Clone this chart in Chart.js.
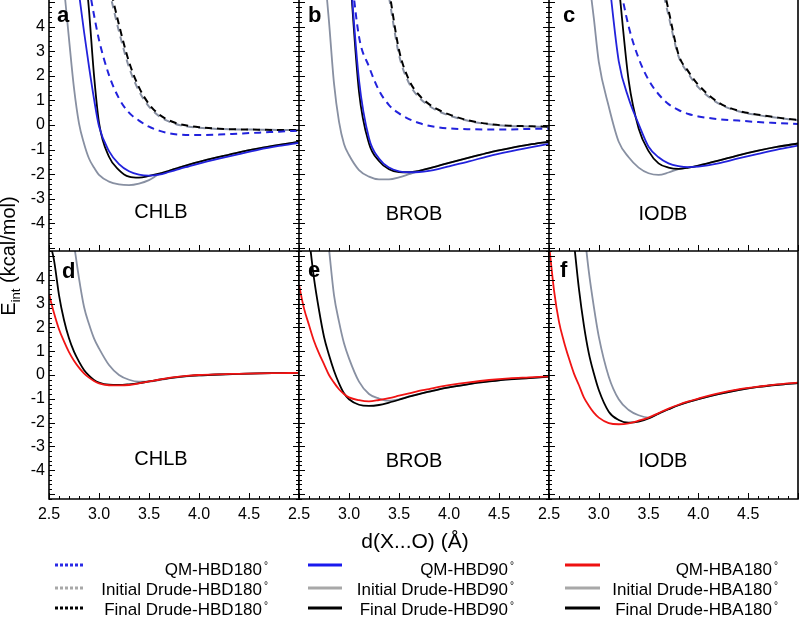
<!DOCTYPE html>
<html><head><meta charset="utf-8">
<script src="https://cdn.jsdelivr.net/npm/chart.js@4.4.0/dist/chart.umd.min.js"></script>
<style>
body{margin:0;background:#fff;}
#wrap{position:relative;width:800px;height:617px;overflow:hidden;font-family:'Liberation Sans',Arial,sans-serif;color:#000;background:#fff;}
canvas{position:absolute;}
.t{position:absolute;white-space:nowrap;line-height:1;}
</style></head><body>
<div id="wrap">
<canvas id="ca" width="299" height="251" style="left:0;top:0"></canvas>
<canvas id="cb" width="250" height="251" style="left:299px;top:0"></canvas>
<canvas id="cc" width="251" height="251" style="left:549px;top:0"></canvas>
<canvas id="cd" width="299" height="288" style="left:0;top:251px"></canvas>
<canvas id="ce" width="265" height="288" style="left:284px;top:251px"></canvas>
<canvas id="cf" width="266" height="288" style="left:534px;top:251px"></canvas>
<svg style="position:absolute;left:0;top:0" width="800" height="617">
  <line x1="55" y1="565" x2="85" y2="565" stroke="#2a2ae6" stroke-width="3" stroke-dasharray="3 2"/>
  <line x1="55" y1="588" x2="85" y2="588" stroke="#a8a8a8" stroke-width="3" stroke-dasharray="3 2"/>
  <line x1="55" y1="608" x2="85" y2="608" stroke="#000" stroke-width="3" stroke-dasharray="3 2"/>
  <line x1="308" y1="565" x2="342" y2="565" stroke="#1a1aee" stroke-width="3"/>
  <line x1="308" y1="588" x2="342" y2="588" stroke="#a8a8a8" stroke-width="3"/>
  <line x1="308" y1="608" x2="342" y2="608" stroke="#000" stroke-width="3"/>
  <line x1="565" y1="565" x2="600" y2="565" stroke="#ee1111" stroke-width="3"/>
  <line x1="565" y1="588" x2="600" y2="588" stroke="#a8a8a8" stroke-width="3"/>
  <line x1="565" y1="608" x2="600" y2="608" stroke="#000" stroke-width="3"/>
</svg>
<div class="t" style="left:-92px;top:244px;width:200px;height:24px;line-height:24px;font-size:20px;text-align:center;transform:rotate(-90deg);">E<sub style="font-size:13px;line-height:0">int</sub> (kcal/mol)</div>
</div>
<script>
const N = null;
// distance grid d(X...O) in Angstrom
const dist = [2.5,2.55,2.6,2.65,2.7,2.75,2.8,2.85,2.9,2.95,3.0,3.1,3.2,3.3,3.4,3.5,3.6,3.7,3.8,3.9,4.0,4.2,4.4,4.6,4.8,5.0];

// Panel a (CHLB, HBD)
const aQM180  = [N,N,N,N,N,N,N,N,5.6,4.47,3.46,2.03,1.08,0.50,0.18,-0.07,-0.23,-0.34,-0.39,-0.41,-0.41,-0.39,-0.35,-0.31,-0.27,-0.23];
const aINI180 = [N,N,N,N,N,N,N,N,N,N,N,5.5,3.8,2.35,1.38,0.75,0.36,0.14,0.0,-0.07,-0.11,-0.16,-0.18,-0.19,-0.2,-0.2];
const aFIN180 = [N,N,N,N,N,N,N,N,N,N,N,5.8,4.07,2.57,1.53,0.85,0.43,0.19,0.04,-0.04,-0.09,-0.15,-0.18,-0.19,-0.2,-0.2];
const aQM90   = [N,N,N,N,N,N,5.35,3.8,2.37,1.06,-0.05,-1.06,-1.59,-1.88,-2.02,-2.06,-2.02,-1.91,-1.79,-1.68,-1.57,-1.37,-1.18,-1.0,-0.85,-0.72];
const aINI90  = [N,N,N,5.6,3.5,1.5,0.07,-0.75,-1.36,-1.73,-2.03,-2.30,-2.41,-2.44,-2.38,-2.24,-2.0,-1.86,-1.73,-1.61,-1.50,-1.30,-1.11,-0.95,-0.81,-0.68];
const aFIN90  = [N,N,N,N,N,N,N,7.0,4.67,2.03,0.1,-1.29,-1.83,-2.10,-2.14,-2.07,-1.98,-1.86,-1.73,-1.61,-1.50,-1.30,-1.11,-0.95,-0.81,-0.68];

// Panel b (BROB, HBD)
const bQM180  = [N,N,N,N,N,N,N,N,N,N,7.0,3.59,2.37,1.40,0.81,0.47,0.24,0.08,-0.03,-0.10,-0.14,-0.17,-0.18,-0.18,-0.16,-0.15];
const bINI180 = [N,N,N,N,N,N,N,N,N,N,N,N,N,N,5.2,2.85,1.7,1.12,0.78,0.55,0.39,0.16,0.03,-0.04,-0.06,-0.08];
const bFIN180 = [N,N,N,N,N,N,N,N,N,N,N,N,N,N,5.5,3.05,1.83,1.22,0.85,0.61,0.43,0.18,0.04,-0.03,-0.05,-0.07];
const bQM90   = [N,N,N,N,N,N,N,N,N,N,6.8,1.83,-0.54,-1.36,-1.73,-1.88,-1.92,-1.91,-1.86,-1.78,-1.68,-1.48,-1.26,-1.08,-0.92,-0.77];
const bINI90  = [N,N,N,N,N,6.5,4.2,1.69,0.14,-0.77,-1.22,-1.83,-2.10,-2.21,-2.21,-2.13,-2.0,-1.87,-1.76,-1.65,-1.54,-1.33,-1.12,-0.95,-0.80,-0.68];
const bFIN90  = [N,N,N,N,N,N,N,N,N,N,6.7,1.36,-0.75,-1.46,-1.80,-1.91,-1.92,-1.86,-1.76,-1.65,-1.54,-1.33,-1.12,-0.95,-0.80,-0.68];

// Panel c (IODB, HBD)
const cQM180  = [N,N,N,N,N,N,N,N,N,N,N,N,5.9,4.0,2.71,1.83,1.25,0.85,0.61,0.45,0.35,0.24,0.18,0.12,0.08,0.04];
const cINI180 = [N,N,N,N,N,N,N,N,N,N,N,N,N,N,N,N,6.2,4.45,2.8,2.08,1.53,0.88,0.56,0.40,0.29,0.19];
const cFIN180 = [N,N,N,N,N,N,N,N,N,N,N,N,N,N,N,N,6.5,4.67,2.87,2.17,1.63,0.92,0.58,0.42,0.30,0.20];
const cQM90   = [N,N,N,N,N,N,N,N,N,N,N,6.0,2.6,1.08,0.04,-0.88,-1.31,-1.56,-1.67,-1.71,-1.69,-1.56,-1.36,-1.17,-0.99,-0.84];
const cINI90  = [N,N,N,N,N,N,N,N,6.0,4.34,2.57,0.75,-0.68,-1.31,-1.73,-1.96,-2.03,-1.93,-1.79,-1.73,-1.65,-1.45,-1.23,-1.04,-0.88,-0.75];
const cFIN90  = [N,N,N,N,N,N,N,N,N,N,N,N,5.7,1.80,-0.14,-1.06,-1.56,-1.73,-1.78,-1.73,-1.65,-1.45,-1.23,-1.04,-0.88,-0.75];

// Panel d (CHLB, HBA)
const dQMA  = [3.40,2.60,1.92,1.41,0.96,0.60,0.31,0.07,-0.11,-0.25,-0.35,-0.43,-0.44,-0.42,-0.35,-0.27,-0.20,-0.12,-0.07,-0.03,0.0,0.03,0.05,0.07,0.08,0.09];
const dINIA = [N,N,N,N,N,5.5,4.06,2.87,2.14,1.54,1.12,0.42,0.0,-0.20,-0.28,-0.28,-0.22,-0.14,-0.09,-0.05,-0.02,0.02,0.05,0.07,0.08,0.09];
const dFINA = [5.7,4.83,3.36,2.31,1.54,0.98,0.56,0.21,-0.03,-0.21,-0.32,-0.41,-0.42,-0.39,-0.34,-0.27,-0.20,-0.13,-0.08,-0.04,-0.01,0.02,0.05,0.07,0.08,0.09];

// Panel e (BROB, HBA)
const eQMA  = [3.78,2.80,2.10,1.43,0.91,0.46,0.0,-0.32,-0.60,-0.80,-0.94,-1.06,-1.11,-1.05,-0.97,-0.87,-0.77,-0.67,-0.59,-0.50,-0.43,-0.31,-0.21,-0.14,-0.10,-0.06];
const eINIA = [N,N,N,N,N,N,5.3,3.36,2.24,1.33,0.70,-0.28,-0.80,-0.99,-1.08,-1.02,-0.90,-0.79,-0.70,-0.60,-0.52,-0.38,-0.27,-0.18,-0.13,-0.08];
const eFINA = [N,N,5.8,4.06,2.73,1.61,0.84,0.18,-0.35,-0.77,-1.02,-1.25,-1.30,-1.26,-1.16,-1.04,-0.91,-0.80,-0.70,-0.60,-0.52,-0.38,-0.27,-0.18,-0.13,-0.07];

// Panel f (IODB, HBA)
const fQMA  = [5.5,3.57,2.24,1.40,0.70,0.07,-0.42,-0.94,-1.29,-1.58,-1.79,-2.02,-2.07,-2.03,-1.92,-1.79,-1.60,-1.41,-1.25,-1.11,-0.99,-0.77,-0.60,-0.49,-0.39,-0.32];
const fINIA = [N,N,N,N,N,N,N,6.2,4.34,2.87,1.61,-0.07,-1.02,-1.47,-1.69,-1.79,-1.62,-1.44,-1.27,-1.13,-1.01,-0.80,-0.63,-0.50,-0.41,-0.34];
const fFINA = [N,N,N,N,N,5.6,3.64,2.10,0.91,0.07,-0.63,-1.54,-1.89,-2.0,-1.96,-1.82,-1.62,-1.44,-1.27,-1.13,-1.01,-0.80,-0.63,-0.50,-0.41,-0.34];

const xTickLabels = ['2.5','3.0','3.5','4.0','4.5'];
const yTickLabels = ['-4','-3','-2','-1','0','1','2','3','4'];
const panelLetters = ['a','b','c','d','e','f'];
const panelNames = ['CHLB','BROB','IODB','CHLB','BROB','IODB'];
const legendCol1 = ['QM-HBD180','Initial Drude-HBD180','Final Drude-HBD180'];
const legendCol2 = ['QM-HBD90','Initial Drude-HBD90','Final Drude-HBD90'];
const legendCol3 = ['QM-HBA180','Initial Drude-HBA180','Final Drude-HBA180'];

const BLUE = '#2222dc', GREY = '#8890a2', BLACK = '#000000', RED = '#f01414';

Chart.defaults.font.family = "'Liberation Sans', Arial, sans-serif";
Chart.defaults.color = '#000';

const framePlugin = {
  id: 'frame',
  afterDatasetsDraw(chart, args, o) {
    const ctx = chart.ctx, ca = chart.chartArea;
    const xs = chart.scales.x, ys = chart.scales.y;
    ctx.save();
    ctx.strokeStyle = '#000';
    ctx.lineWidth = 1;
    ctx.beginPath();
    for (let k = 25; k <= 50; k++) {
      const px = Math.round(xs.getPixelForValue(k / 10)) + 0.5;
      const len = (k % 5 === 0) ? 6 : 3;
      ctx.moveTo(px, ca.bottom); ctx.lineTo(px, ca.bottom - len);
    }
    for (let k = -26; k <= 26; k++) {
      const v = k / 5;
      if (v < ys.min || v > ys.max) continue;
      const py = Math.round(ys.getPixelForValue(v)) + 0.5;
      const len = (k % 5 === 0) ? 6 : 3;
      ctx.moveTo(ca.left, py); ctx.lineTo(ca.left + len, py);
      if (o.right) { ctx.moveTo(ca.right, py); ctx.lineTo(ca.right - len, py); }
    }
    ctx.stroke();
    ctx.lineWidth = 1.6;
    ctx.beginPath();
    ctx.moveTo(ca.left, ca.top); ctx.lineTo(ca.left, ca.bottom);
    ctx.lineTo(ca.right, ca.bottom); ctx.lineTo(ca.right, ca.top);
    if (o.top) { ctx.moveTo(ca.left, ca.top); ctx.lineTo(ca.right, ca.top); }
    ctx.stroke();
    ctx.restore();
  }
};

function ds(arr, color, dashed) {
  return {
    data: dist.map((x, i) => ({ x: x, y: arr[i] })),
    borderColor: color,
    borderWidth: dashed ? 2 : 1.8,
    borderDash: dashed ? [7, 5] : [],
    pointRadius: 0, fill: false, spanGaps: false,
    tension: 0.4, cubicInterpolationMode: 'monotone'
  };
}

function panel(id, sets, o) {
  new Chart(document.getElementById(id), {
    type: 'line',
    data: { datasets: sets },
    options: {
      responsive: false, animation: false, devicePixelRatio: 1,
      layout: { padding: { left: o.padL || 0, right: o.padR || 0, top: 0, bottom: 0 } },
      plugins: { legend: { display: false }, tooltip: { enabled: false }, frame: { right: o.right, top: o.top } },
      scales: {
        x: {
          type: 'linear', min: 2.5, max: 5.0, display: o.xLab,
          grid: { display: false, drawTicks: false }, border: { display: false },
          ticks: { stepSize: 0.5, includeBounds: false, autoSkip: false, maxRotation: 0, minRotation: 0, padding: 6,
                   font: { size: 16 }, callback: (v) => { const s = v.toFixed(1); return xTickLabels.includes(s) ? s : ''; } },
          afterFit: (s) => { s.height = o.xLab ? 40 : 0; s.paddingLeft = 0; s.paddingRight = 0; }
        },
        y: {
          type: 'linear', min: o.ymin, max: o.ymax, display: o.yLab,
          grid: { display: false, drawTicks: false }, border: { display: false },
          ticks: { stepSize: 1, includeBounds: false, autoSkip: false, padding: 4, font: { size: 16 },
                   callback: (v) => { const s = String(Math.round(v)); return yTickLabels.includes(s) ? s : ''; } },
          afterFit: (s) => { s.width = o.yLab ? 49 : 0; s.paddingTop = 0; s.paddingBottom = 0; }
        }
      }
    },
    plugins: [framePlugin]
  });
}

function topSets(qm90, fin90, ini90, qm180, fin180, ini180) {
  return [ds(qm90, BLUE, false), ds(fin90, BLACK, false), ds(ini90, GREY, false),
          ds(qm180, BLUE, true), ds(fin180, BLACK, true), ds(ini180, GREY, true)];
}
function botSets(qm, fin, ini) {
  return [ds(qm, RED, false), ds(fin, BLACK, false), ds(ini, GREY, false)];
}

const TOP = { ymin: -5.12, ymax: 5.08 };
const BOT = { ymin: -5.21, ymax: 5.21 };

panel('ca', topSets(aQM90, aFIN90, aINI90, aQM180, aFIN180, aINI180), Object.assign({ xLab: false, yLab: true, right: true }, TOP));
panel('cb', topSets(bQM90, bFIN90, bINI90, bQM180, bFIN180, bINI180), Object.assign({ xLab: false, yLab: false, right: true }, TOP));
panel('cc', topSets(cQM90, cFIN90, cINI90, cQM180, cFIN180, cINI180), Object.assign({ xLab: false, yLab: false, right: false, padR: 2 }, TOP));
panel('cd', botSets(dQMA, dFINA, dINIA), Object.assign({ xLab: true, yLab: true, right: true, top: true }, BOT));
panel('ce', botSets(eQMA, eFINA, eINIA), Object.assign({ xLab: true, yLab: false, right: true, top: true, padL: 15 }, BOT));
panel('cf', botSets(fQMA, fFINA, fINIA), Object.assign({ xLab: true, yLab: false, right: false, top: true, padL: 15, padR: 2 }, BOT));

const wrap = document.getElementById('wrap');
function txt(s, x, base, size, align, bold) {
  const d = document.createElement('div');
  d.className = 't';
  d.innerHTML = s;
  d.style.fontSize = size + 'px';
  if (bold) d.style.fontWeight = 'bold';
  d.style.top = (base - 0.8465 * size) + 'px';
  d.style.left = x + 'px';
  if (align === 'center') d.style.transform = 'translateX(-50%)';
  if (align === 'right') d.style.transform = 'translateX(-100%)';
  wrap.appendChild(d);
}
const letterPos = [[57,23],[308,23],[563,23],[62,279],[308,278],[560,278]];
panelLetters.forEach((l, i) => txt(l, letterPos[i][0], letterPos[i][1], 22, 'left', true));
const namePos = [[161,218],[414,220],[663,220],[161,465],[414,467],[663,467]];
panelNames.forEach((n, i) => txt(n, namePos[i][0], namePos[i][1], 20, 'center', false));
txt('d(X...O) (Å)', 415, 548, 21, 'center', false);
const deg = "<span style='font-size:10px;vertical-align:top;margin-left:2px'>°</span>";
const rowBase = [575, 595, 615];
legendCol1.forEach((s, i) => txt(s + deg, 268, rowBase[i], 17, 'right', false));
legendCol2.forEach((s, i) => txt(s + deg, 514, rowBase[i], 17, 'right', false));
legendCol3.forEach((s, i) => txt(s + deg, 778, rowBase[i], 17, 'right', false));
</script>
</body></html>
